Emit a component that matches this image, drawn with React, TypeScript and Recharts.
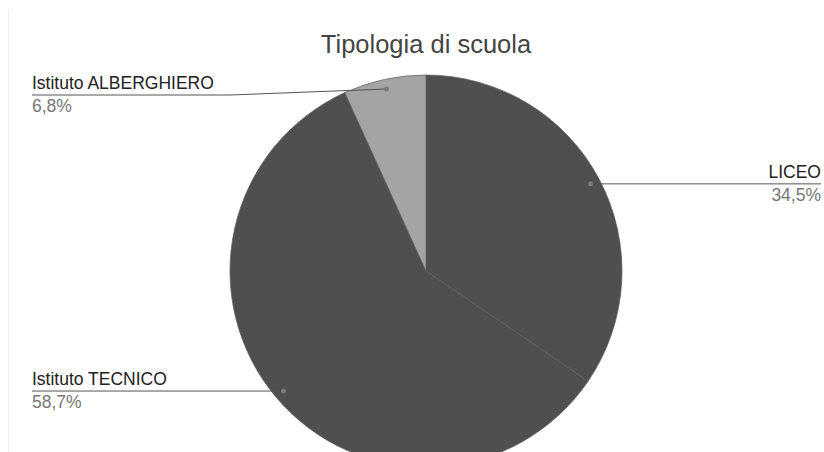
import { PieChart, Pie, Cell } from "recharts";

const categories = ["LICEO", "Istituto TECNICO", "Istituto ALBERGHIERO"];
const shares = [34.5, 58.7, 6.8];
const colors = ["#4f4f4f", "#4f4f4f", "#a4a4a4"];

const data = categories.map((name, i) => ({ name, value: shares[i] }));

const RAD = Math.PI / 180;
const LEFT_X = 32;
const RIGHT_X = 821;
const MIN_LINE_Y = 95;

const renderLabel = (props: any) => {
  const { cx, cy, midAngle, outerRadius, name, value } = props;
  const r = outerRadius * 0.95;
  const dx = cx + r * Math.cos(-midAngle * RAD);
  const dy = cy + r * Math.sin(-midAngle * RAD);
  const left = dx < cx;
  const lineY = Math.max(dy, MIN_LINE_Y);
  const endX = left ? LEFT_X : RIGHT_X;
  const elbowX = left ? cx - outerRadius : cx + outerRadius;
  const anchor = left ? "start" : "end";
  const pct = Number(value).toFixed(1).replace(".", ",") + "%";
  return (
    <g>
      <polyline
        points={`${endX},${lineY} ${elbowX},${lineY} ${dx},${dy}`}
        fill="none"
        stroke="#555555"
        strokeWidth={1}
      />
      <circle cx={dx} cy={dy} r={2.5} fill="#7a7a7a" />
      <text x={endX} y={lineY - 6} textAnchor={anchor} fontSize={17.5} fill="#222222">
        {name}
      </text>
      <text x={endX} y={lineY + 17} textAnchor={anchor} fontSize={17.5} fill="#777777">
        {pct}
      </text>
    </g>
  );
};

export default function App() {
  return (
    <div
      style={{
        position: "fixed",
        left: 0,
        top: 0,
        width: 824,
        height: 452,
        background: "#ffffff",
        fontFamily: "'Liberation Sans', Arial, sans-serif",
      }}
    >
      <div
        style={{
          position: "absolute",
          left: 8,
          top: 10,
          width: 0,
          height: 442,
          borderLeft: "1px solid #eeeeee",
        }}
      />
      <PieChart
        width={824}
        height={452}
        margin={{ top: 0, right: 0, bottom: 0, left: 0 }}
        style={{ position: "absolute", left: 0, top: 0 }}
      >
        <text x={426} y={53} textAnchor="middle" fontSize={25.5} fill="#444444">
          Tipologia di scuola
        </text>
        <Pie
          data={data}
          dataKey="value"
          nameKey="name"
          cx={426}
          cy={271}
          outerRadius={196}
          startAngle={90}
          endAngle={-270}
          stroke="#5c5c5c"
          strokeWidth={0.7}
          label={renderLabel}
          labelLine={false}
          isAnimationActive={false}
        >
          {data.map((d, i) => (
            <Cell key={d.name} fill={colors[i]} />
          ))}
        </Pie>
      </PieChart>
    </div>
  );
}
